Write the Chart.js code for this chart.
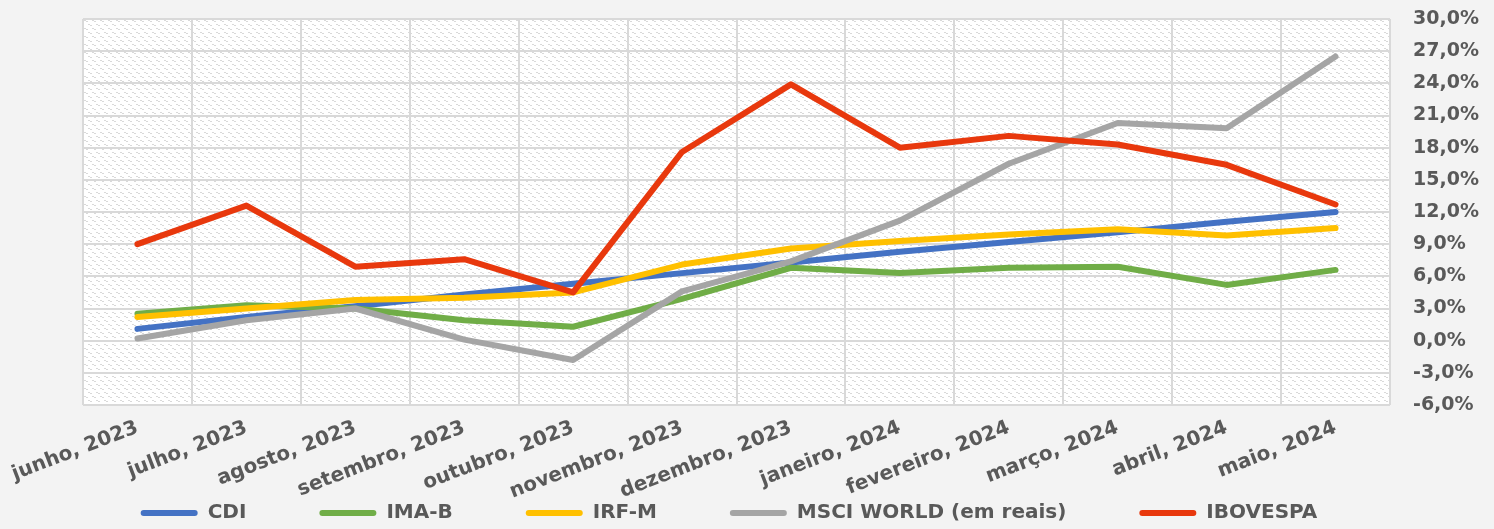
<!DOCTYPE html>
<html>
<head>
<meta charset="utf-8">
<script src="https://cdn.jsdelivr.net/npm/chart.js@4.4.1/dist/chart.umd.min.js"></script>
<style>
html,body{margin:0;padding:0;background:#f3f3f3;}
canvas{display:block;}
</style>
</head>
<body>
<canvas id="c" width="1494" height="529"></canvas>
<script>
// ---- data (cumulative return, %) ----
const categories = ['junho, 2023','julho, 2023','agosto, 2023','setembro, 2023','outubro, 2023','novembro, 2023','dezembro, 2023','janeiro, 2024','fevereiro, 2024','março, 2024','abril, 2024','maio, 2024'];
const cdi      = [1.1, 2.2, 3.2, 4.3, 5.3, 6.3, 7.3, 8.3, 9.2, 10.1, 11.1, 12.0];
const imaB     = [2.5, 3.3, 3.0, 1.9, 1.3, 3.9, 6.8, 6.3, 6.8, 6.9, 5.2, 6.6];
const irfM     = [2.2, 3.0, 3.8, 4.0, 4.5, 7.1, 8.6, 9.3, 9.9, 10.4, 9.8, 10.5];
const msciWorld= [0.2, 1.9, 3.0, 0.1, -1.8, 4.6, 7.4, 11.2, 16.5, 20.3, 19.8, 26.5];
const ibovespa = [9.0, 12.6, 6.9, 7.6, 4.5, 17.6, 23.9, 18.0, 19.1, 18.3, 16.4, 12.7];
const seriesNames = ['CDI','IMA-B','IRF-M','MSCI WORLD (em reais)','IBOVESPA'];
const seriesColors = ['#4472C4','#70AD47','#FFC000','#A5A5A5','#E8380D'];
const yMin = -6, yMax = 30, yStep = 3;

const textColor = '#595959';
const fontFamily = '"DejaVu Sans", sans-serif';

// hatch pattern for plot background
const tile = document.createElement('canvas');
tile.width = 8; tile.height = 8;
const tc = tile.getContext('2d');
tc.fillStyle = '#ffffff'; tc.fillRect(0,0,8,8);
tc.fillStyle = '#d9d9d9';
[[0,0],[1,0],[2,1],[3,1],[4,4],[5,4],[6,5],[7,5]].forEach(([x,y]) => tc.fillRect(x,y,1,1));

const bgPlugin = {
  id: 'bg',
  beforeDraw(chart) {
    const {ctx, chartArea: a} = chart;
    ctx.save();
    ctx.fillStyle = '#f3f3f3';
    ctx.fillRect(0, 0, chart.width, chart.height);
    ctx.fillStyle = ctx.createPattern(tile, 'repeat');
    ctx.fillRect(a.left, a.top, a.right - a.left, a.bottom - a.top);
    ctx.restore();
  }
};

const allData = [cdi, imaB, irfM, msciWorld, ibovespa];
const datasets = allData.map((d, i) => ({
  label: seriesNames[i],
  data: d,
  borderColor: seriesColors[i],
  backgroundColor: seriesColors[i],
  borderWidth: 6,
  pointRadius: 0,
  pointHoverRadius: 0,
  tension: 0,
  fill: false,
  borderCapStyle: 'round',
  borderJoinStyle: 'round',
  order: allData.length - i
}));

new Chart(document.getElementById('c'), {
  type: 'line',
  data: { labels: categories, datasets },
  plugins: [bgPlugin],
  options: {
    responsive: false,
    animation: false,
    events: [],
    layout: { padding: { top: 19, right: 36, bottom: -4, left: 0 } },
    scales: {
      x: {
        type: 'category',
        offset: true,
        grid: { offset: true, color: '#d9d9d9', lineWidth: 2, drawTicks: false },
        border: { display: false },
        ticks: {
          autoSkip: false,
          minRotation: 21,
          maxRotation: 21,
          padding: 11,
          color: textColor,
          font: { family: fontFamily, weight: 'bold', size: 20 }
        },
        afterFit(s) {
          s.height = 25; s.paddingLeft = 83; s.paddingRight = 0;
          s._computeLabelArea = () => undefined;
        }
      },
      y: {
        position: 'right',
        min: yMin,
        max: yMax,
        grid: { color: '#d9d9d9', lineWidth: 2, drawTicks: false },
        border: { display: false },
        ticks: {
          stepSize: yStep,
          padding: 23,
          color: textColor,
          font: { family: fontFamily, weight: 'bold', size: 19 },
          callback: v => v.toFixed(1).replace('.', ',') + '%'
        },
        afterFit(s) {
          s.width = 68; s.paddingTop = 0; s.paddingBottom = 0;
          s._computeLabelArea = () => undefined;
        }
      }
    },
    plugins: {
      tooltip: { enabled: false },
      legend: {
        position: 'bottom',
        labels: {
          color: textColor,
          font: { family: fontFamily, weight: 'bold', size: 20 },
          boxWidth: 57,
          boxHeight: 6,
          padding: 73,
          useBorderRadius: true,
          borderRadius: 3,
          sort: (a, b) => a.datasetIndex - b.datasetIndex,
          generateLabels(chart) {
            const items = Chart.defaults.plugins.legend.labels.generateLabels(chart);
            items.forEach(it => { it.lineWidth = 0; it.fillStyle = it.strokeStyle; it.borderRadius = 3; });
            return items;
          }
        }
      }
    }
  }
});
</script>
</body>
</html>
